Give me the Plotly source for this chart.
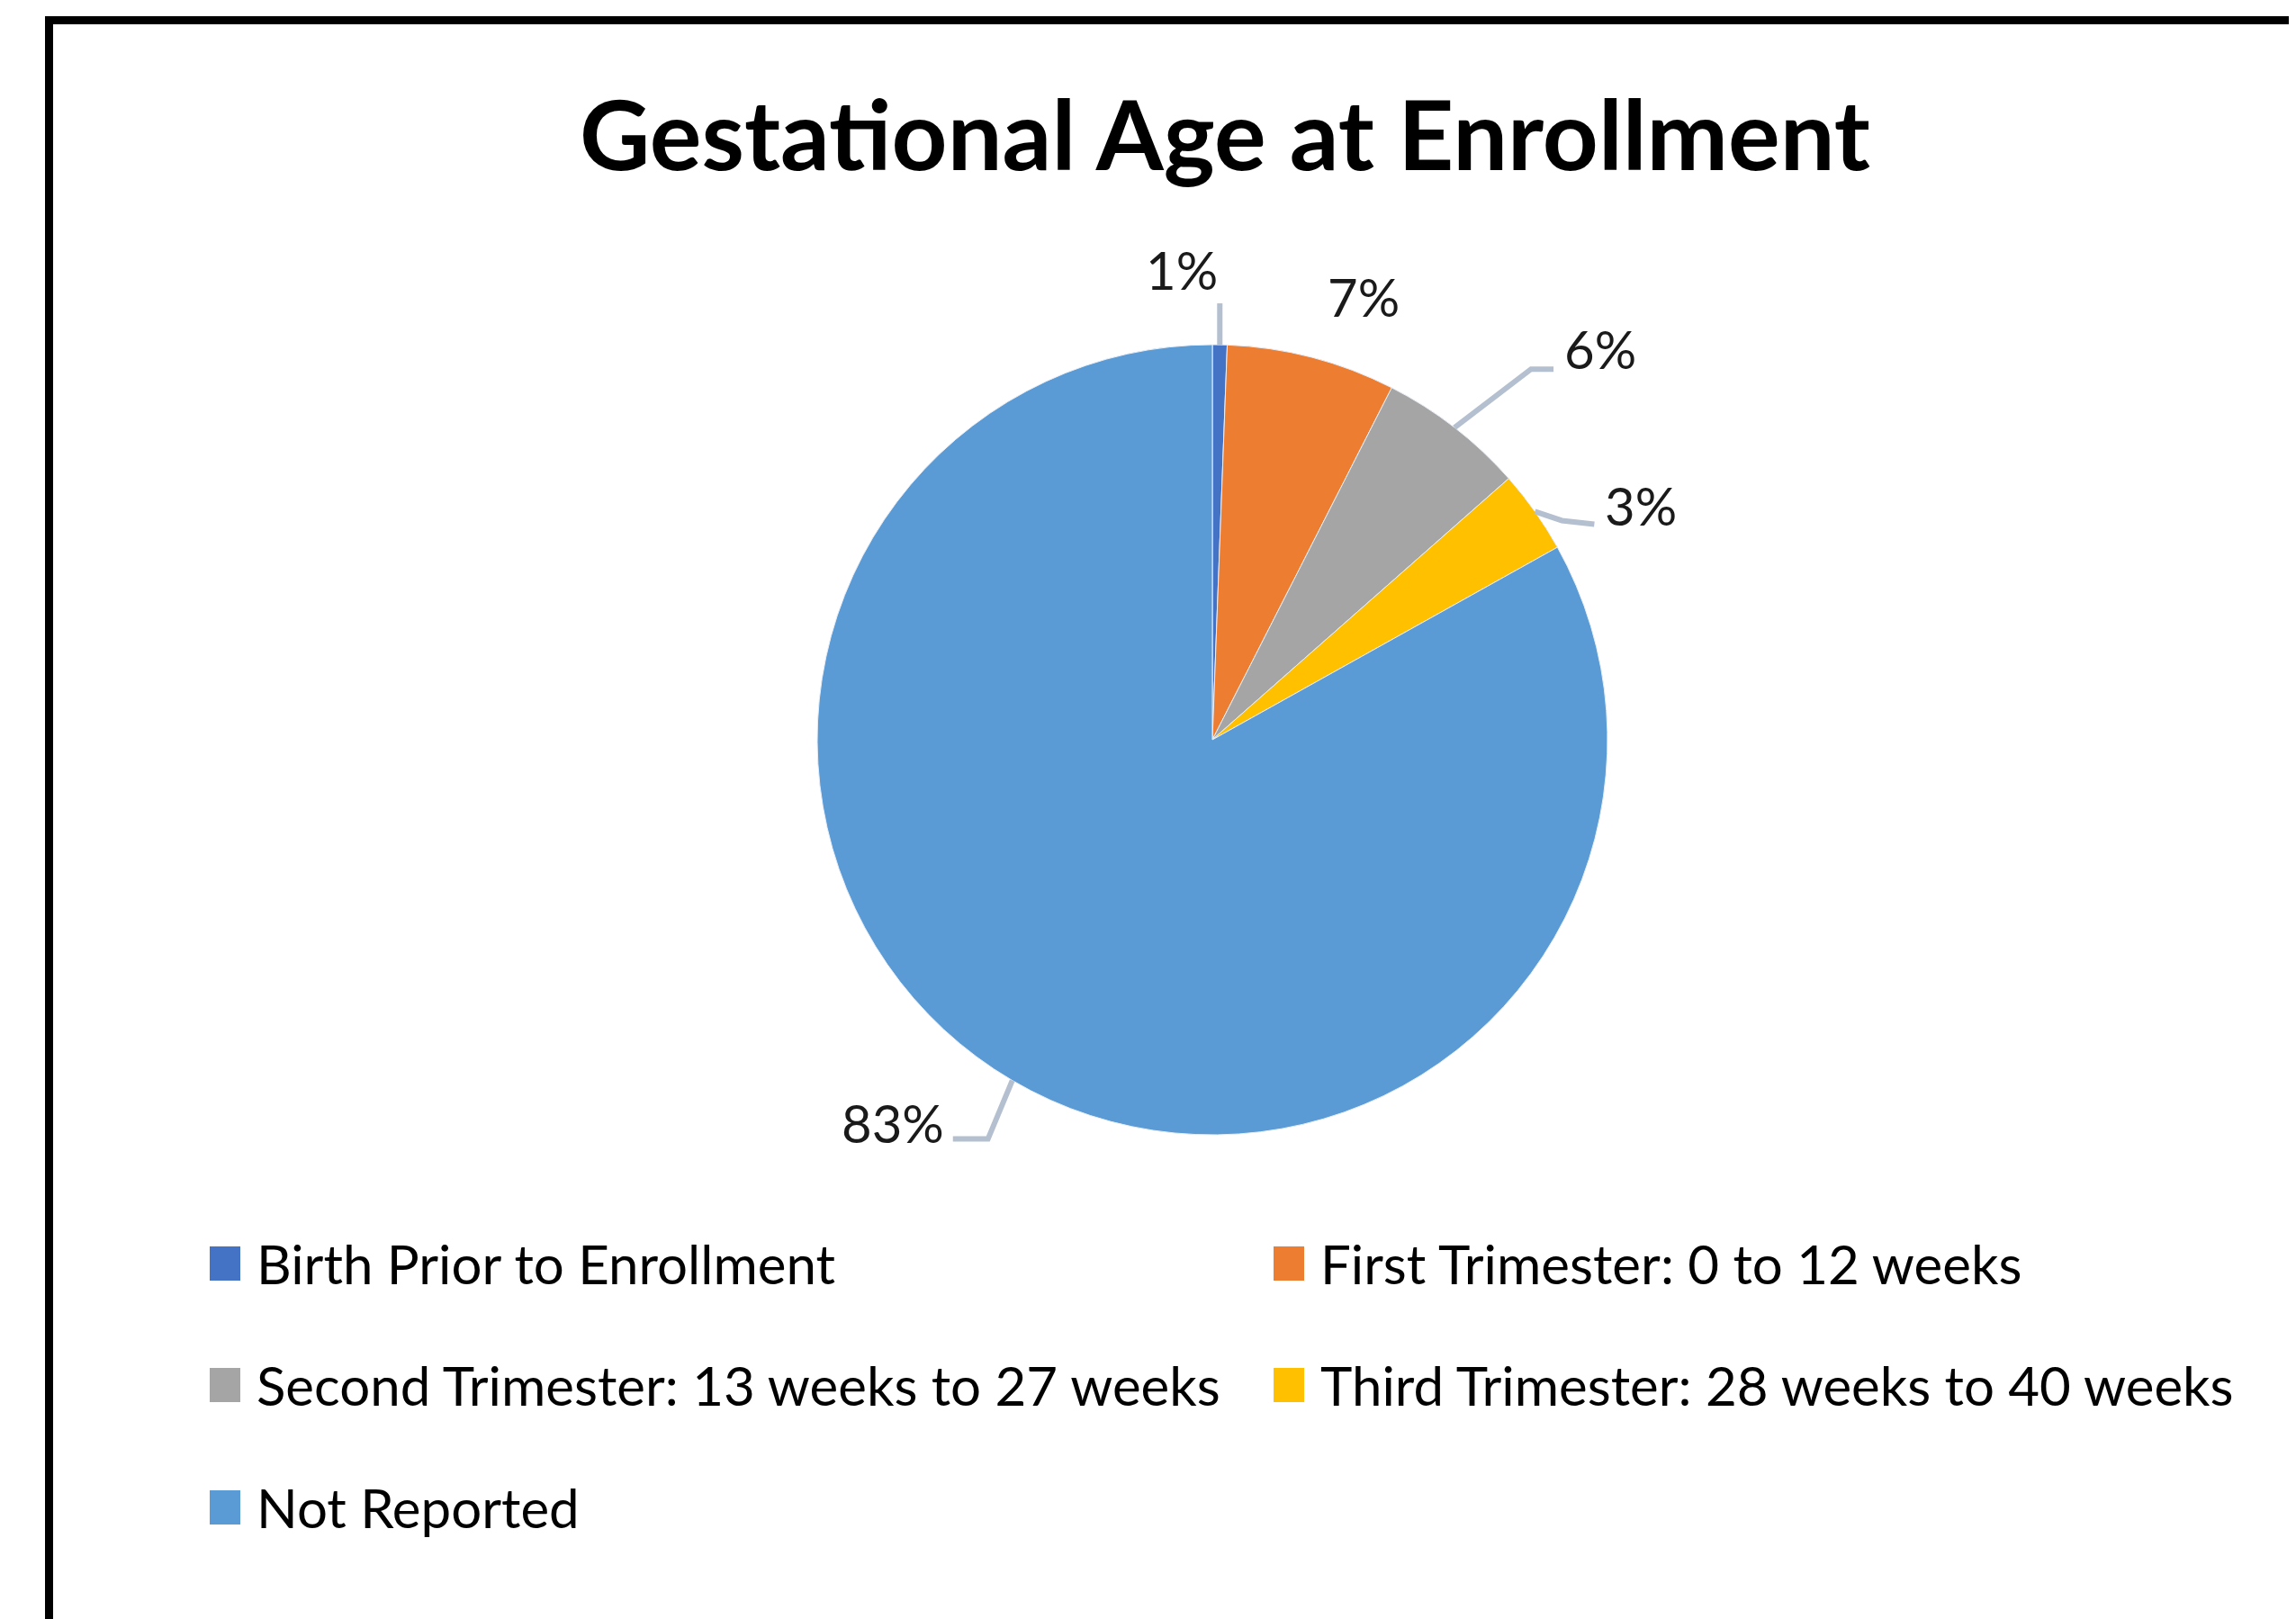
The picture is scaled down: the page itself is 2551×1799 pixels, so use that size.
import math
import plotly.graph_objects as go

# ---- data ----
categories = [
    "Birth Prior to Enrollment",
    "First Trimester: 0 to 12 weeks",
    "Second Trimester: 13 weeks to 27 weeks",
    "Third Trimester: 28 weeks to 40 weeks",
    "Not Reported",
]
values = [0.6, 6.9, 6.0, 3.4, 83.1]
value_labels = ["1%", "7%", "6%", "3%", "83%"]
colors = ["#4472C4", "#ED7D31", "#A5A5A5", "#FFC000", "#5B9BD5"]

# ---- layout constants (pixels) ----
W, H = 2551, 1799
OFF = 8  # page body margin
CX, CY, R = 1347, 822, 439
FONT = "Lato"
LBL_COLOR = "#1A1A1A"
LEADER = "#B4BFD0"


def px_x(x):
    return (x - OFF) / W


def px_y(y):
    return 1 - (y - OFF) / H


fig = go.Figure()
fig.add_trace(go.Pie(
    labels=categories,
    values=values,
    sort=False,
    direction="clockwise",
    rotation=0,
    marker=dict(colors=colors, line=dict(color="#E8EEF6", width=1)),
    textinfo="none",
    hoverinfo="label+percent",
    showlegend=False,
    domain=dict(x=[px_x(CX - R), px_x(CX + R)], y=[px_y(CY + R), px_y(CY - R)]),
))

# ---- data labels with leader lines, anchored at each slice's mid-angle ----
# per-label style: (label dx, label dy, elbow dx, elbow dy, end dx, end dy, draw leader)
label_style = [
    (-42, -84, 0, -46, 0, -46, True),
    (57, -68, 0, 0, 0, 0, False),
    (162, -88, 85, -65, 110, -65, True),
    (118, -7, 30, 10, 66, 14, True),
    (-133, 47, -27, 65, -66, 65, True),
]
total = sum(values)
cum = 0
annotations = []
shapes = []
for v, lab, st in zip(values, value_labels, label_style):
    mid = (cum + v / 2) / total * 2 * math.pi
    cum += v
    ex = CX + R * math.sin(mid)
    ey = CY - R * math.cos(mid)
    ldx, ldy, bx, by, endx, endy, lead = st
    annotations.append(dict(
        x=px_x(ex + ldx), y=px_y(ey + ldy), xref="paper", yref="paper",
        text=lab, showarrow=False, xanchor="center", yanchor="middle",
        font=dict(family=FONT, size=58, color=LBL_COLOR),
    ))
    if lead:
        path = "M {:.5f},{:.5f} L {:.5f},{:.5f} L {:.5f},{:.5f}".format(
            px_x(ex), px_y(ey), px_x(ex + bx), px_y(ey + by), px_x(ex + endx), px_y(ey + endy))
        shapes.append(dict(type="path", xref="paper", yref="paper", path=path,
                           line=dict(color=LEADER, width=6)))

# ---- manual legend (2 columns) ----
leg_col_x = [250, 1432]
leg_row_y = [1404, 1539, 1675]
sq_w, sq_h = 34, 38
for i, (cat, col) in enumerate(zip(categories, colors)):
    r, c = divmod(i, 2)
    mx, my = leg_col_x[c], leg_row_y[r]
    shapes.append(dict(type="rect", xref="paper", yref="paper",
                       x0=px_x(mx - sq_w / 2), x1=px_x(mx + sq_w / 2),
                       y0=px_y(my + sq_h / 2), y1=px_y(my - sq_h / 2),
                       fillcolor=col, line=dict(width=0)))
    annotations.append(dict(
        x=px_x(mx + 33), y=px_y(my), xref="paper", yref="paper",
        text=cat, showarrow=False, xanchor="left", yanchor="middle",
        font=dict(family=FONT, size=60, color="#000000"),
    ))

# ---- chart border ----
shapes.append(dict(type="rect", xref="paper", yref="paper",
                   x0=px_x(54.5), x1=1.05, y0=-0.05, y1=px_y(22.5),
                   line=dict(color="#000000", width=9), fillcolor="rgba(0,0,0,0)"))

fig.update_layout(
    width=W, height=H,
    margin=dict(l=0, r=0, t=0, b=0),
    paper_bgcolor="#FFFFFF",
    plot_bgcolor="#FFFFFF",
    title=dict(text="<b>Gestational Age at Enrollment</b>", x=px_x(1361), xanchor="center",
               y=px_y(151), yanchor="middle",
               font=dict(family=FONT, size=108, color="#000000")),
    annotations=annotations,
    shapes=shapes,
)

fig.write_html("out.html")
